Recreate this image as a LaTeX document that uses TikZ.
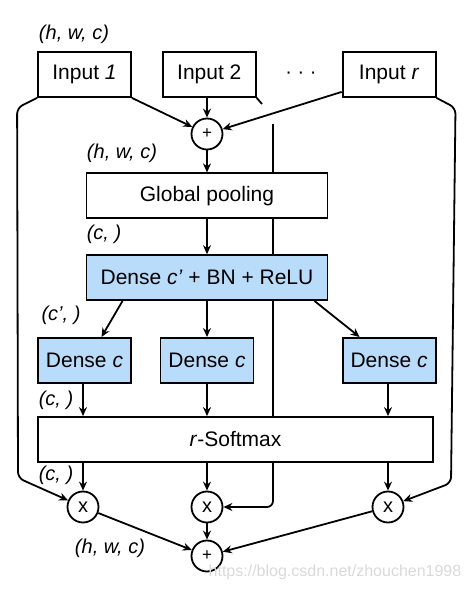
\documentclass[tikz,border=0pt]{standalone}
\usepackage{fontspec}
\setmainfont{Liberation Sans}
\usepackage{tikz}
\usetikzlibrary{arrows.meta,positioning}
\definecolor{skyfill}{HTML}{BADCFB}

\begin{document}
\begin{tikzpicture}[x=1pt,y=1pt,line width=1.8pt,
  box/.style={draw,fill=white,minimum width=93pt,minimum height=45pt,inner sep=0pt,
  font=\fontsize{21}{25}\selectfont},
  wide/.style={box,minimum width=241pt},
  bluebox/.style={fill=skyfill},
  op/.style={draw,circle,fill=white,minimum size=31pt,inner sep=0pt,font=\fontsize{20}{24}\selectfont},
  sumop/.style={op,font=\fontsize{17}{20}\selectfont},
  dim/.style={font=\fontsize{20}{24}\selectfont\itshape,inner sep=0pt},
  arr/.style={-{Stealth[length=9pt,width=8pt,inset=3pt]}}]
\useasboundingbox (0,0) rectangle (470,590);
\node[box] (in1) at (84.5,515.5) {Input \textit{1}};
\node[box,right=30pt of in1] (in2) {Input 2};
\node[box,right=85pt of in2] (inr) {Input \textit{r}};
\node[font=\fontsize{20}{24}\selectfont] (dots) at (301,515) {· · ·};
\node[sumop] (sum1) at (207,456) {+};
\node[wide,below=22pt of sum1] (pool) {Global pooling};
\node[wide,bluebox,below=35pt of pool] (fc) {Dense \textit{c’} + BN + ReLU};
\node[box,bluebox,below=36pt of fc] (d2) {Dense \textit{c}};
\node[box,bluebox] (d1) at (d2 -| in1) {Dense \textit{c}};
\node[box,bluebox] (d3) at (d2 -| inr) {Dense \textit{c}};
\node[box,minimum width=395pt] (soft) at (235.5,150.5) {\textit{r}-Softmax};
\node[op] (m1) at (83,83) {x};
\node[op] (m2) at (207,83) {x};
\node[op] (m3) at (388,83) {x};
\node[sumop] (sum2) at (207,34) {+};
% shape labels
\node[dim] (hwc1) at (74,556) {(h, w, c)};
\node[dim] (hwc2) at (122,437) {(h, w, c)};
\node[dim] (cdim1) at (104,356) {(c, )};
\node[dim] (cdim2) at (61,275) {(c’, )};
\node[dim] (cdim3) at (56,190) {(c, )};
\node[dim] (cdim4) at (56,115) {(c, )};
\node[dim] (hwc3) at (110,42) {(h, w, c)};
\node[text=gray!30,font=\fontsize{16}{18}\selectfont] (mark) at (335,18) {https://blog.csdn.net/zhouchen1998};
% arrows
\draw[arr] (in1.south east) -- (sum1);
\draw[arr] (in2.south -| sum1) -- (sum1);
\draw[arr] ([yshift=6pt]inr.south west) -- (sum1);
\draw[arr] (sum1) -- (pool);
\draw[arr] (pool) -- (fc);
\draw[arr] ([xshift=-84.5pt]fc.south) -- ([xshift=17pt]d1.north);
\draw[arr] (fc.south -| d2) -- (d2);
\draw[arr] ([xshift=107.5pt]fc.south) -- ([xshift=-29.5pt]d3.north);
\foreach \i in {1,2,3} {
  \draw[arr] (d\i.south -| m\i) -- (soft.north -| m\i);
  \draw[arr] (soft.south -| m\i) -- (m\i);
  \draw[arr] (m\i) -- (sum2);
}
\draw[arr,rounded corners=6pt] (in1.south west) -- ++(-20,-10) -- (18,112) -- (m1);
\draw[arr,rounded corners=6pt] (inr.south east) -- ++(19,-10) -- (451,107) -- (m3);
% skip path from input 2, broken where it passes the boxes
\coordinate (hopA) at (262,486);
\coordinate (hopB) at (273,466);
\draw (in2.south east) -- (hopA);
\draw (hopB) -- (hopB |- pool.north);
\draw (hopB |- pool.south) -- (hopB |- fc.north);
\draw (hopB |- fc.south) -- (hopB |- soft.north);
\draw[arr,rounded corners=6pt] (hopB |- soft.south) |- (m2.east);
\end{tikzpicture}
\end{document}
